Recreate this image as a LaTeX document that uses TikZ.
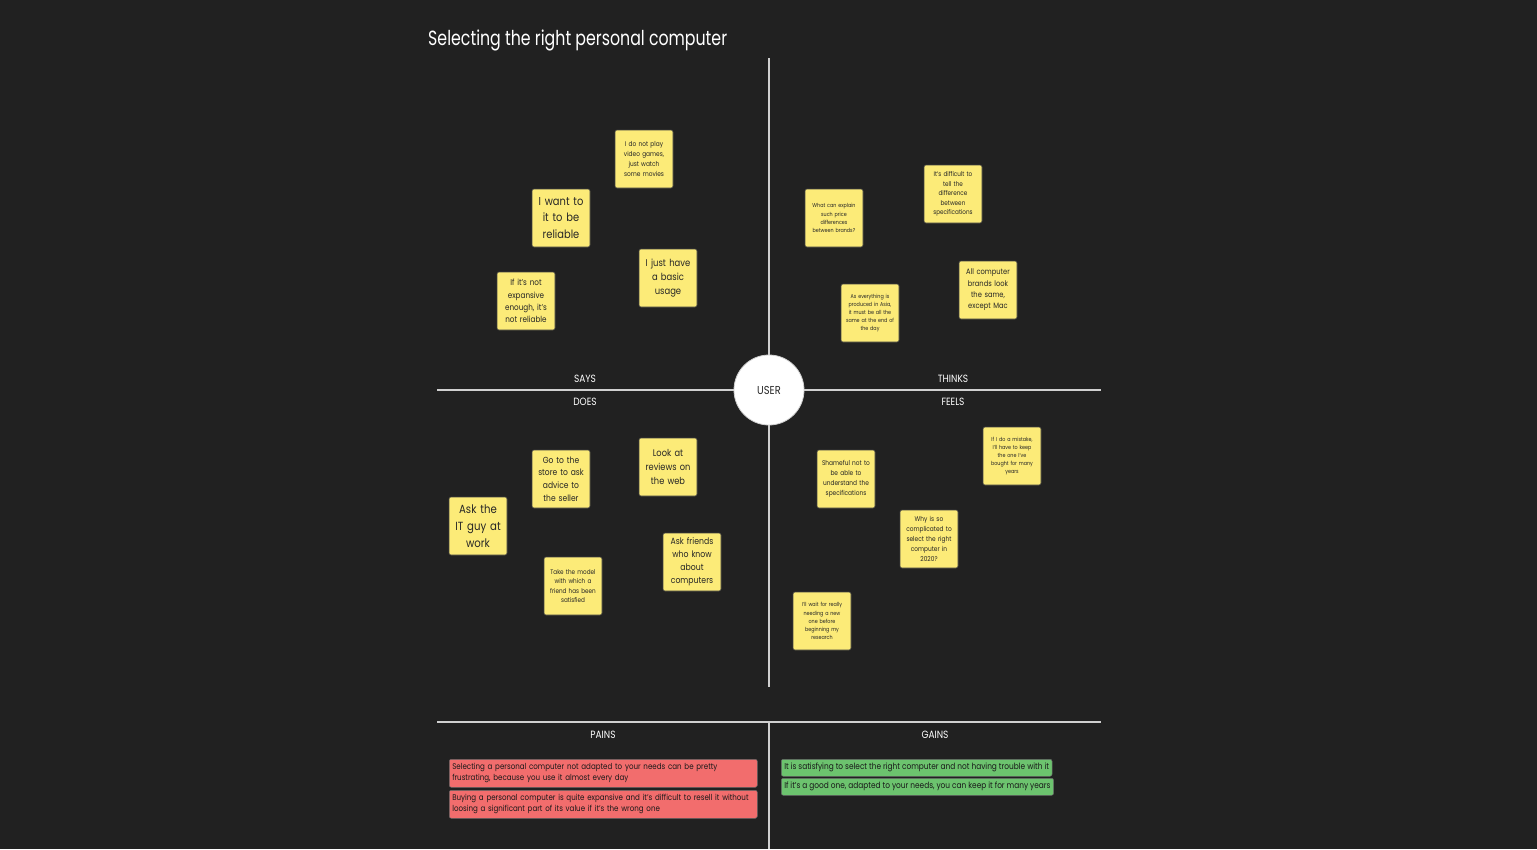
\documentclass[tikz,border=0pt]{standalone}
\usepackage{fontspec}
\setmainfont{Poppins}[FakeStretch=0.86]
\definecolor{bg}{HTML}{212121}
\definecolor{notey}{HTML}{FCEB78}
\definecolor{painred}{HTML}{F26D6D}
\definecolor{gaingreen}{HTML}{6CC36E}
\definecolor{rule}{HTML}{D0D0D0}
% font size with a line spacing of about 1.45 times the size
\newcommand{\fsz}[1]{\fontsize{#1pt}{\dimexpr #1pt*145/100\relax}\selectfont}
\begin{document}
\begin{tikzpicture}[x=1pt,y=-1pt,
  sticky/.style={draw=black!75, line width=0.6pt, fill=notey, rounded corners=2pt,
    minimum width=58pt, minimum height=58pt, text width=56pt, align=center,
    inner sep=1pt, text=black!85},
  quad/.style={text=white, font=\fontsize{10.5}{12}\selectfont, anchor=base},
  axis/.style={draw=rule, line width=1.1pt},
  painbox/.style={draw=black!60, line width=0.5pt, fill=painred, rounded corners=2pt,
    anchor=north west, minimum width=308pt, minimum height=28pt, text width=302pt,
    align=left, inner sep=3pt, font=\fontsize{8.25}{10.8}\selectfont, text=black!90},
  gainbox/.style={draw=black!60, line width=0.5pt, fill=gaingreen, rounded corners=2pt,
    anchor=north west, minimum height=17pt, inner sep=3pt,
    font=\fontsize{8.6}{10}\selectfont, text=black!90}
]
\fill[bg] (0,0) rectangle (1537,849);
\useasboundingbox (0,0) rectangle (1537,849);

% title
\node[anchor=base west, text=white, font=\fontsize{20.5}{24}\selectfont\addfontfeature{FakeStretch=0.77}, inner sep=0pt]
  (title) at (428,45) {Selecting the right personal computer};

% empathy map axes
\coordinate (vtop) at (769,58);
\coordinate (vbot) at (769,687);
\coordinate (hleft) at (437,390);
\coordinate (hright) at (1101,390);
\draw[axis] (vtop) -- (vbot);
\draw[axis] (hleft) -- (hright);

% pains / gains frame
\coordinate (pgleft) at (437,722);
\coordinate (pgright) at (1101,722);
\coordinate (pgmid) at (769,722);
\coordinate (pgbot) at (769,849);
\draw[axis] (pgleft) -- (pgright);
\draw[axis] (pgmid) -- (pgbot);

% user circle
\node[circle, fill=white, draw=rule, line width=0.8pt, minimum size=70pt, inner sep=0pt,
  font=\fontsize{11.5}{13}\selectfont, text=black!85] (user) at (769,390) {USER};

% quadrant labels
\node[quad] (says) at (585,382) {SAYS};
\node[quad] (thinks) at (953,382) {THINKS};
\node[quad] (does) at (585,405) {DOES};
\node[quad] (feels) at (953,405) {FEELS};
\node[quad] (pains) at (603,738) {PAINS};
\node[quad] (gains) at (935,738) {GAINS};

% SAYS
\node[sticky, font=\fsz{6.8}] (s1) at (644,159) {I do not play\\video games,\\just watch\\some movies};
\node[sticky, font=\fsz{11.5}] (s2) at (561,218) {I want to\\it to be\\reliable};
\node[sticky, font=\fsz{9.8}] (s3) at (668,278) {I just have\\a basic\\usage};
\node[sticky, font=\fsz{8.4}] (s4) at (526,301) {If it's not\\expansive\\enough, it's\\not reliable};

% THINKS
\node[sticky, font=\fsz{5.6}] (t1) at (834,218) {What can explain\\such price\\differences\\between brands?};
\node[sticky, font=\fsz{6.6}] (t2) at (953,194) {It's difficult to\\tell the\\difference\\between\\specifications};
\node[sticky, font=\fsz{7.8}] (t3) at (988,290) {All computer\\brands look\\the same,\\except Mac};
\node[sticky, font=\fsz{5.6}] (t4) at (870,313) {As everything is\\produced in Asia,\\it must be all the\\same at the end of\\the day};

% DOES
\node[sticky, font=\fsz{8.8}] (d1) at (561,479) {Go to the\\store to ask\\advice to\\the seller};
\node[sticky, font=\fsz{9.6}] (d2) at (668,467) {Look at\\reviews on\\the web};
\node[sticky, font=\fsz{11.8}] (d3) at (478,526) {Ask the\\IT guy at\\work};
\node[sticky, font=\fsz{6.6}] (d4) at (573,586) {Take the model\\with which a\\friend has been\\satisfied};
\node[sticky, font=\fsz{9.0}] (d5) at (692,562) {Ask friends\\who know\\about\\computers};

% FEELS
\node[sticky, font=\fsz{6.8}] (f1) at (846,479) {Shameful not to\\be able to\\understand the\\specifications};
\node[sticky, font=\fsz{6.8}] (f2) at (929,539) {Why is so\\complicated to\\select the right\\computer in\\2020?};
\node[sticky, font=\fsz{5.6}] (f3) at (1012,456) {If I do a mistake,\\I'll have to keep\\the one I've\\bought for many\\years};
\node[sticky, font=\fsz{5.6}] (f4) at (822,621) {I'll wait for really\\needing a new\\one before\\beginning my\\research};

% PAINS
\node[painbox] (p1) at (449,759) {Selecting a personal computer not adapted to your needs can be pretty\\frustrating, because you use it almost every day};
\node[painbox] (p2) at (449,790) {Buying a personal computer is quite expansive and it's difficult to resell it without\\loosing a significant part of its value if it's the wrong one};

% GAINS
\node[gainbox] (g1) at (781,759) {It is satisfying to select the right computer and not having trouble with it};
\node[gainbox] (g2) at (781,778) {If it's a good one, adapted to your needs, you can keep it for many years};
\end{tikzpicture}
\end{document}
